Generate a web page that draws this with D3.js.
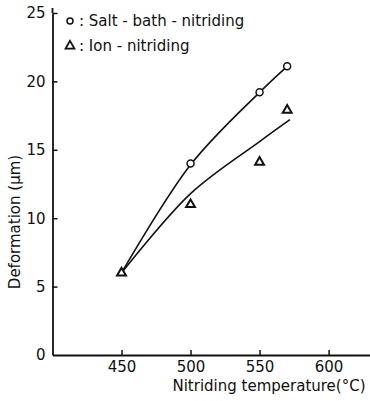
<!DOCTYPE html>
<html>
<head>
<meta charset="utf-8">
<script src="https://cdn.jsdelivr.net/npm/d3@7"></script>
<style>
  body { margin: 0; background: #fff; }
  svg text { font-family: "DejaVu Sans", sans-serif; fill: #111; }
</style>
</head>
<body>
<div id="chart"></div>
<script>
// measured points
const temps = [450, 500, 550, 570];
const saltBath = [6, 14, 19.2, 21.1];
const ionNitr = [6, 11, 14.1, 17.9];
// hand-drawn fitted curves
const saltFitT = [450, 500, 550, 570];
const saltFitY = [6, 13.9, 19.2, 21.1];
const ionFitT = [450, 500, 550, 572];
const ionFitY = [6, 11.8, 15.6, 17.2];

const xTicks = [450, 500, 550, 600];
const yTicks = [0, 5, 10, 15, 20, 25];

const W = 370, H = 401;
const svg = d3.select('#chart').append('svg')
    .attr('width', W).attr('height', H);

const x = d3.scaleLinear().domain([400, 630]).range([52.5, 370]);
const y = d3.scaleLinear().domain([0, 25]).range([355, 13]);

// axes
let xAxis = svg.append('g')
    .attr('transform', 'translate(0,' + y(0) + ')')
    .call(d3.axisBottom(x).tickValues(xTicks).tickSizeInner(-5).tickSizeOuter(0).tickPadding(6));
xAxis.selectAll('text').style('font-size', '15px');

let yAxis = svg.append('g')
    .attr('transform', 'translate(' + x(400) + ',0)')
    .call(d3.axisLeft(y).tickValues(yTicks).tickSizeInner(-5).tickSizeOuter(0).tickPadding(7));
yAxis.selectAll('text').style('font-size', '15px');
yAxis.selectAll('.tick').filter(d => d === 0).select('line').remove();

svg.selectAll('.domain').attr('stroke', '#111').attr('stroke-width', 1.8);
svg.selectAll('.tick line').attr('stroke', '#111').attr('stroke-width', 1.5);

// small extension at top of y axis
svg.append('line')
    .attr('x1', x(400)).attr('x2', x(400))
    .attr('y1', y(25)).attr('y2', y(25) - 5)
    .attr('stroke', '#111').attr('stroke-width', 1.8);

// axis titles
svg.append('text')
    .attr('x', 269).attr('y', 391)
    .attr('text-anchor', 'middle')
    .style('font-size', '15px')
    .text('Nitriding temperature(°C)');

svg.append('text')
    .attr('transform', 'translate(20,' + 222 + ') rotate(-90)')
    .attr('text-anchor', 'middle')
    .style('font-size', '15px')
    .text('Deformation  (μm)');

// curves
const line = d3.line()
    .x(d => x(d[0]))
    .y(d => y(d[1]))
    .curve(d3.curveCatmullRom.alpha(0.5));

svg.append('path')
    .datum(saltFitT.map((t, i) => [t, saltFitY[i]]))
    .attr('d', line)
    .attr('fill', 'none').attr('stroke', '#111').attr('stroke-width', 1.6);

svg.append('path')
    .datum(ionFitT.map((t, i) => [t, ionFitY[i]]))
    .attr('d', line)
    .attr('fill', 'none').attr('stroke', '#111').attr('stroke-width', 1.6);

// markers
const tri = d3.symbol().type(d3.symbolTriangle).size(34);

svg.selectAll('.ion')
    .data(temps.map((t, i) => [t, ionNitr[i]]))
    .enter().append('path')
    .attr('class', 'ion')
    .attr('transform', d => 'translate(' + x(d[0]) + ',' + y(d[1]) + ')')
    .attr('d', tri)
    .attr('fill', '#fff').attr('stroke', '#111').attr('stroke-width', 2);

svg.selectAll('.salt')
    .data(temps.map((t, i) => [t, saltBath[i]]).filter(d => d[0] !== 450))
    .enter().append('circle')
    .attr('class', 'salt')
    .attr('cx', d => x(d[0])).attr('cy', d => y(d[1]))
    .attr('r', 3.5)
    .attr('fill', '#fff').attr('stroke', '#111').attr('stroke-width', 1.5);

// legend
const legend = svg.append('g');
legend.append('circle')
    .attr('cx', 70).attr('cy', 21).attr('r', 3)
    .attr('fill', '#fff').attr('stroke', '#111').attr('stroke-width', 1.5);
legend.append('text')
    .attr('x', 79).attr('y', 26)
    .style('font-size', '15px')
    .text(': Salt - bath - nitriding');

legend.append('path')
    .attr('transform', 'translate(70,46)')
    .attr('d', tri)
    .attr('fill', '#fff').attr('stroke', '#111').attr('stroke-width', 1.8);
legend.append('text')
    .attr('x', 79).attr('y', 51)
    .style('font-size', '15px')
    .text(': Ion - nitriding');
</script>
</body>
</html>
